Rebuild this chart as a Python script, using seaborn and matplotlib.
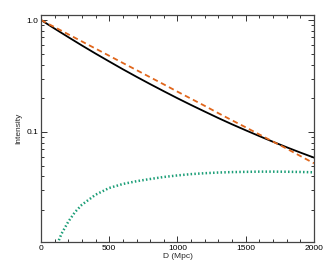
import numpy as np
import pandas as pd
import matplotlib
import matplotlib.pyplot as plt
import seaborn as sns
from matplotlib.ticker import FixedLocator, NullFormatter

matplotlib.use('agg')

# distance grid (Mpc) and intensities
dist = [0, 100, 200, 300, 400, 500, 600, 700, 800, 900, 1000,
        1100, 1200, 1300, 1400, 1500, 1600, 1700, 1800, 1900, 2000]
total = [1.0, 0.837, 0.703, 0.592, 0.501, 0.426, 0.363, 0.311, 0.2675, 0.231, 0.200,
         0.174, 0.152, 0.133, 0.117, 0.1035, 0.0918, 0.0817, 0.0730, 0.0655, 0.059]
expo = [1.0, 0.863, 0.745, 0.643, 0.555, 0.479, 0.413, 0.357, 0.308, 0.266, 0.229,
        0.198, 0.171, 0.147, 0.127, 0.110, 0.095, 0.082, 0.071, 0.061, 0.0525]
dist_g = [100, 150, 200, 250, 300, 400, 500, 600, 700, 800, 900, 1000,
          1100, 1200, 1300, 1400, 1500, 1600, 1700, 1800, 1900, 2000]
scat = [0.0087, 0.0123, 0.0158, 0.0193, 0.0224, 0.0275, 0.0316, 0.0343, 0.0363, 0.0380, 0.0396, 0.0409,
        0.0420, 0.0428, 0.0434, 0.0438, 0.0440, 0.0442, 0.0442, 0.0441, 0.0439, 0.0436]

df = pd.DataFrame({'D': dist, 'total': total, 'expo': expo})
dg = pd.DataFrame({'D': dist_g, 'scat': scat})

sns.set_style('ticks')
plt.rcParams['font.family'] = ['Liberation Sans', 'DejaVu Sans']

fig = plt.figure(figsize=(3.27, 2.73), dpi=100)
ax = fig.add_axes([0.1254, 0.1136, 0.8346, 0.8314])

sns.lineplot(data=df, x='D', y='total', ax=ax, color='black', lw=1.3)
sns.lineplot(data=df, x='D', y='expo', ax=ax, color='#e0661c', lw=1.3,
             linestyle=(0, (3, 2)))
sns.lineplot(data=dg, x='D', y='scat', ax=ax, color='#1b9e77', lw=1.8,
             linestyle=(0, (0.6, 0.9)))

ax.set_yscale('log')
ax.set_xlim(0, 2000)
ax.set_ylim(0.0104, 1.108)

ax.set_xticks([0, 500, 1000, 1500, 2000])
ax.set_xticklabels(['0', '500', '1000', '1500', '2000'])
ax.xaxis.set_minor_locator(FixedLocator(np.arange(0, 2001, 100)))
ax.set_yticks([0.1, 1.0])
ax.set_yticklabels(['0.1', '1.0'])
ax.yaxis.set_minor_locator(FixedLocator(
    [v * 10.0 ** e for e in (-2, -1) for v in range(2, 10)]))
ax.yaxis.set_minor_formatter(NullFormatter())

ax.tick_params(which='both', direction='in', top=True, right=True,
               labelsize=6, colors='#333333', labelcolor='black', width=0.7)
ax.tick_params(which='major', length=4, pad=2)
ax.tick_params(which='minor', length=2.2)
for s in ax.spines.values():
    s.set_linewidth(0.9)
    s.set_color('#444444')

ax.set_xlabel('D (Mpc)', fontsize=6, labelpad=1)
ax.set_ylabel('Intensity', fontsize=6, labelpad=3)

fig.savefig('out.png', dpi=100)
